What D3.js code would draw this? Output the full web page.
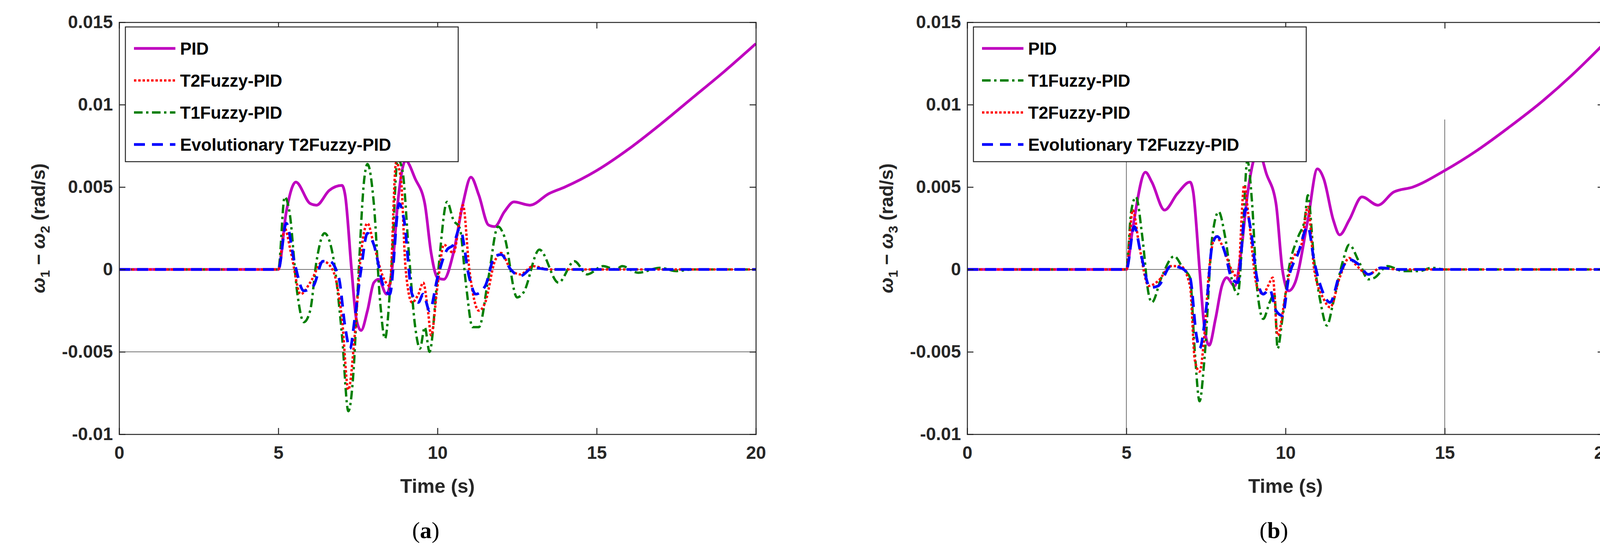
<!DOCTYPE html>
<html><head><meta charset="utf-8">
<script src="https://cdn.jsdelivr.net/npm/d3@7"></script>
<style>html,body{margin:0;background:#fff;overflow:hidden}svg{display:block}</style>
</head><body>
<script>
// values in units of 1e-3 rad/s, [time, value]
var pidA = [[0,0],[5,0],[5.25,3.5],[5.55,5.3],[6,4],[6.2,3.9],[6.6,4.8],[7,5.1],[7.1,4.5],[7.3,0],[7.45,-3],[7.6,-3.7],[7.8,-2.5],[8,-0.8],[8.15,-0.6],[8.4,-1.5],[8.6,0.5],[8.75,4],[9,6.6],[9.3,5.5],[9.6,4],[9.8,1],[10,-0.5],[10.2,-0.6],[10.5,1],[10.8,4],[11.05,5.6],[11.3,4.5],[11.6,2.7],[11.8,2.6],[12.1,3.5],[12.4,4.1],[12.9,3.9],[13.5,4.6],[14,5],[15,6],[16,7.3],[17,8.8],[18,10.4],[19,12],[20,13.7]];
var t1A = [[0,0],[5,0],[5.2,4.4],[5.35,3.5],[5.6,-1.5],[5.8,-3.2],[6,-2.5],[6.2,0.5],[6.45,2.2],[6.7,1],[7,-4],[7.2,-8.6],[7.35,-6.5],[7.5,-1],[7.7,5.5],[7.8,6.4],[8,4],[8.2,-2],[8.35,-4.2],[8.55,0],[8.75,6.7],[8.9,6],[9.1,1],[9.3,-3.5],[9.45,-4.8],[9.6,-3.5],[9.75,-5],[10,-0.5],[10.3,4.1],[10.5,3],[10.7,2.5],[10.9,-1],[11.1,-3.5],[11.3,-3.5],[11.6,-0.5],[11.9,2.6],[12.1,2],[12.5,-1.7],[12.7,-1.4],[13.2,1.2],[13.8,-0.8],[14.3,0.5],[14.7,-0.3],[15.2,0.2],[15.6,0],[15.8,0.2],[16.3,-0.2],[17,0.1],[17.5,-0.1],[18,0],[20,0]];
var t2A = [[0,0],[5,0],[5.2,2.5],[5.4,1],[5.7,-1.5],[6,-0.8],[6.4,0.5],[6.7,0],[7,-3],[7.2,-7.3],[7.4,-4],[7.6,1],[7.8,2.8],[8,1.5],[8.3,-0.5],[8.5,-1],[8.7,6.5],[8.85,5.5],[9,0],[9.2,-2],[9.4,-1.5],[9.55,-0.8],[9.7,-2.5],[9.8,-4],[10,-1],[10.2,1.5],[10.5,1],[10.8,3.9],[11,0],[11.3,-2.5],[11.5,-2],[11.8,0.5],[12,1],[12.3,0],[12.6,-0.3],[13,0.2],[13.5,0],[20,0]];
var evoA = [[0,0],[5,0],[5.25,2.8],[5.5,0.5],[5.8,-1.3],[6.1,-1],[6.4,0.5],[6.6,0.5],[6.9,-0.5],[7.1,-3.5],[7.25,-4.8],[7.4,-3],[7.6,0],[7.8,2.2],[8,1.5],[8.3,-1],[8.5,-1.5],[8.8,4],[8.95,3],[9.2,-1.5],[9.4,-2],[9.55,-1.5],[9.75,-2.5],[10,-0.5],[10.3,1.2],[10.5,1.5],[10.7,2.5],[11,-0.5],[11.2,-1.5],[11.5,-1],[11.8,0.8],[12,0.9],[12.3,0],[12.6,-0.4],[13,0.1],[13.5,0],[20,0]];

var pidB = [[0,0],[5,0],[5.2,2.5],[5.6,5.9],[5.8,5.3],[6.2,3.6],[6.6,4.6],[7,5.3],[7.1,4.7],[7.3,0],[7.45,-3.5],[7.6,-4.6],[7.8,-3],[8,-1],[8.15,-0.5],[8.4,-1],[8.6,1],[8.8,4.5],[9.15,7.2],[9.4,5.8],[9.7,4],[9.9,0],[10.1,-1.3],[10.3,-0.8],[10.7,3],[11,6.1],[11.2,5.5],[11.5,3],[11.7,2.1],[12,3],[12.4,4.4],[12.9,3.9],[13.4,4.7],[14,5],[15,6],[16,7.2],[17,8.6],[18,10.1],[19,11.8],[20,13.7]];
var t1B = [[0,0],[5,0],[5.15,3.5],[5.3,4.4],[5.5,2],[5.7,-1.5],[5.8,-2],[6.1,-0.5],[6.5,0.8],[6.8,0],[7,-0.5],[7.15,-5],[7.3,-8],[7.45,-5.5],[7.7,2],[7.9,3.5],[8.1,2],[8.3,-0.5],[8.5,-1.5],[8.65,2],[8.8,6.6],[8.95,4],[9.1,-1],[9.3,-3],[9.5,-2],[9.65,-1.5],[9.75,-4.8],[9.9,-3],[10.1,0],[10.4,2],[10.6,3],[10.7,4.5],[10.9,0.5],[11.1,-2],[11.3,-3.4],[11.5,-2],[11.8,0.5],[12,1.5],[12.3,0.5],[12.6,-0.6],[12.8,-0.5],[13.2,0.2],[13.7,-0.1],[14.2,-0.1],[14.6,0.1],[15,0],[20,0]];
var t2B = [[0,0],[5,0],[5.2,3.6],[5.4,1.5],[5.7,-1],[6,-0.7],[6.4,0.2],[6.7,0.2],[7,-1],[7.15,-5.5],[7.3,-6.2],[7.45,-4],[7.6,0],[7.8,2],[8,1.5],[8.3,0],[8.5,-0.5],[8.7,5.1],[8.85,3],[9.1,-1],[9.3,-1.5],[9.45,-1],[9.6,-0.5],[9.75,-4],[10,-1.5],[10.2,0.5],[10.5,1.5],[10.7,3.8],[10.9,0],[11.2,-1.8],[11.4,-2.3],[11.7,-0.5],[12,0.7],[12.2,0.3],[12.6,-0.3],[13,0.1],[13.5,0],[20,0]];
var evoB = [[0,0],[5,0],[5.25,2.6],[5.45,1],[5.75,-1.1],[6,-1],[6.4,0.2],[6.7,0.1],[7,-0.5],[7.2,-4],[7.3,-4.8],[7.5,-2.5],[7.7,1.5],[7.85,2],[8.1,1],[8.3,-0.5],[8.5,-0.8],[8.75,3.7],[8.9,2.5],[9.1,-0.5],[9.3,-1.5],[9.5,-1.2],[9.7,-2.5],[9.9,-2.8],[10.1,-0.5],[10.4,1],[10.7,2.6],[10.9,0.5],[11.1,-1],[11.4,-2],[11.7,-0.3],[12,0.6],[12.3,0.3],[12.6,-0.3],[13,0.1],[13.5,0],[20,0]];

var xTicks = [0,5,10,15,20];
var yTicks = [-10,-5,0,5,10,15];
var yTickLabels = ["-0.01","-0.005","0","0.005","0.01","0.015"];

var styles = {
  pid: {color:"#bf00bf", width:7, dash:null, name:"PID"},
  t1: {color:"#007f00", width:6, dash:"22,9,6,9", name:"T1Fuzzy-PID"},
  t2: {color:"#ff0000", width:6, dash:"6,5", name:"T2Fuzzy-PID"},
  evo: {color:"#0000ff", width:7, dash:"28,18", name:"Evolutionary T2Fuzzy-PID"}
};

var svg = d3.select("body").append("svg").attr("width",4161).attr("height",1411);

function drawPanel(left, series, legendOrder, sub, caption, guides){
  var top = 57, w = 1630, h = 1055;
  var g = svg.append("g").attr("transform","translate("+left+","+top+")");
  var x = d3.scaleLinear().domain([0,20]).range([0,w]);
  var y = d3.scaleLinear().domain([-10,15]).range([h,0]);

  //thin reference lines
  guides.forEach(function(gd){
    if(gd.type=="h") g.append("line").attr("x1",0).attr("x2",w).attr("y1",y(gd.v)).attr("y2",y(gd.v)).attr("stroke","#444").attr("stroke-width",1.5);
    else g.append("line").attr("x1",x(gd.v)).attr("x2",x(gd.v)).attr("y1",y(gd.top)).attr("y2",h).attr("stroke","#444").attr("stroke-width",1.5);
  });

  var line = d3.line().x(function(d){return x(d[0]);}).y(function(d){return y(d[1]);}).curve(d3.curveMonotoneX);
  ["pid","t1","t2","evo"].forEach(function(k){
    var s = styles[k];
    g.append("path").datum(series[k]).attr("d",line).attr("fill","none")
      .attr("stroke",s.color).attr("stroke-width",s.width).attr("stroke-dasharray",s.dash);
  });

  //axes with inward ticks
  var fmtY = function(d){return yTickLabels[yTicks.indexOf(d)];};
  var ax = [
    g.append("g").attr("transform","translate(0,"+h+")").call(d3.axisBottom(x).tickValues(xTicks).tickSize(-16).tickPadding(30)),
    g.append("g").call(d3.axisLeft(y).tickValues(yTicks).tickFormat(fmtY).tickSize(-16).tickPadding(16)),
    g.append("g").call(d3.axisTop(x).tickValues(xTicks).tickFormat("").tickSize(-16)),
    g.append("g").attr("transform","translate("+w+",0)").call(d3.axisRight(y).tickValues(yTicks).tickFormat("").tickSize(-16))
  ];
  ax.forEach(function(a){
    a.selectAll("path,line").attr("stroke","#262626").attr("stroke-width",2.5);
    a.selectAll("text").attr("font-family","Liberation Sans, Arial").attr("font-weight","bold").attr("font-size",46).attr("fill","#262626");
  });

  g.append("text").attr("x",w/2).attr("y",h+150).attr("text-anchor","middle")
    .attr("font-family","Liberation Sans, Arial").attr("font-weight","bold").attr("font-size",50).attr("fill","#262626").text("Time (s)");

  var yl = g.append("text").attr("transform","translate(-190,"+(h/2)+") rotate(-90)").attr("text-anchor","middle")
    .attr("font-family","Liberation Sans, Arial").attr("font-weight","bold").attr("font-size",48).attr("fill","#262626");
  yl.append("tspan").attr("font-style","italic").text("ω");
  yl.append("tspan").attr("font-size",34).attr("dy",12).text("1");
  yl.append("tspan").attr("dy",-12).text(" − ");
  yl.append("tspan").attr("font-style","italic").text("ω");
  yl.append("tspan").attr("font-size",34).attr("dy",12).text(sub);
  yl.append("tspan").attr("dy",-12).text(" (rad/s)");

  //legend
  var lg = g.append("g").attr("transform","translate(16,12)");
  lg.append("rect").attr("width",852).attr("height",345).attr("fill","#fff").attr("stroke","#262626").attr("stroke-width",2.5);
  legendOrder.forEach(function(k,i){
    var s = styles[k], yy = 55 + i*82;
    lg.append("line").attr("x1",22).attr("x2",128).attr("y1",yy).attr("y2",yy)
      .attr("stroke",s.color).attr("stroke-width",s.width).attr("stroke-dasharray",s.dash);
    lg.append("text").attr("x",140).attr("y",yy+16).attr("font-family","Liberation Sans, Arial").attr("font-weight","bold")
      .attr("font-size",44).attr("fill","#000").text(s.name);
  });

  var cap = svg.append("text").attr("x",left+w/2-30).attr("y",1378).attr("text-anchor","middle")
    .attr("font-family","Liberation Serif, Times New Roman").attr("font-size",60).attr("fill","#000");
  cap.append("tspan").text("(");
  cap.append("tspan").attr("font-weight","bold").text(caption);
  cap.append("tspan").text(")");
}

drawPanel(305, {pid:pidA,t1:t1A,t2:t2A,evo:evoA}, ["pid","t2","t1","evo"], "2", "a",
  [{type:"h",v:0},{type:"h",v:-5}]);
drawPanel(2476, {pid:pidB,t1:t1B,t2:t2B,evo:evoB}, ["pid","t1","t2","evo"], "3", "b",
  [{type:"h",v:0},{type:"v",v:5,top:7.5},{type:"v",v:15,top:9.1}]);
</script>
</body></html>
